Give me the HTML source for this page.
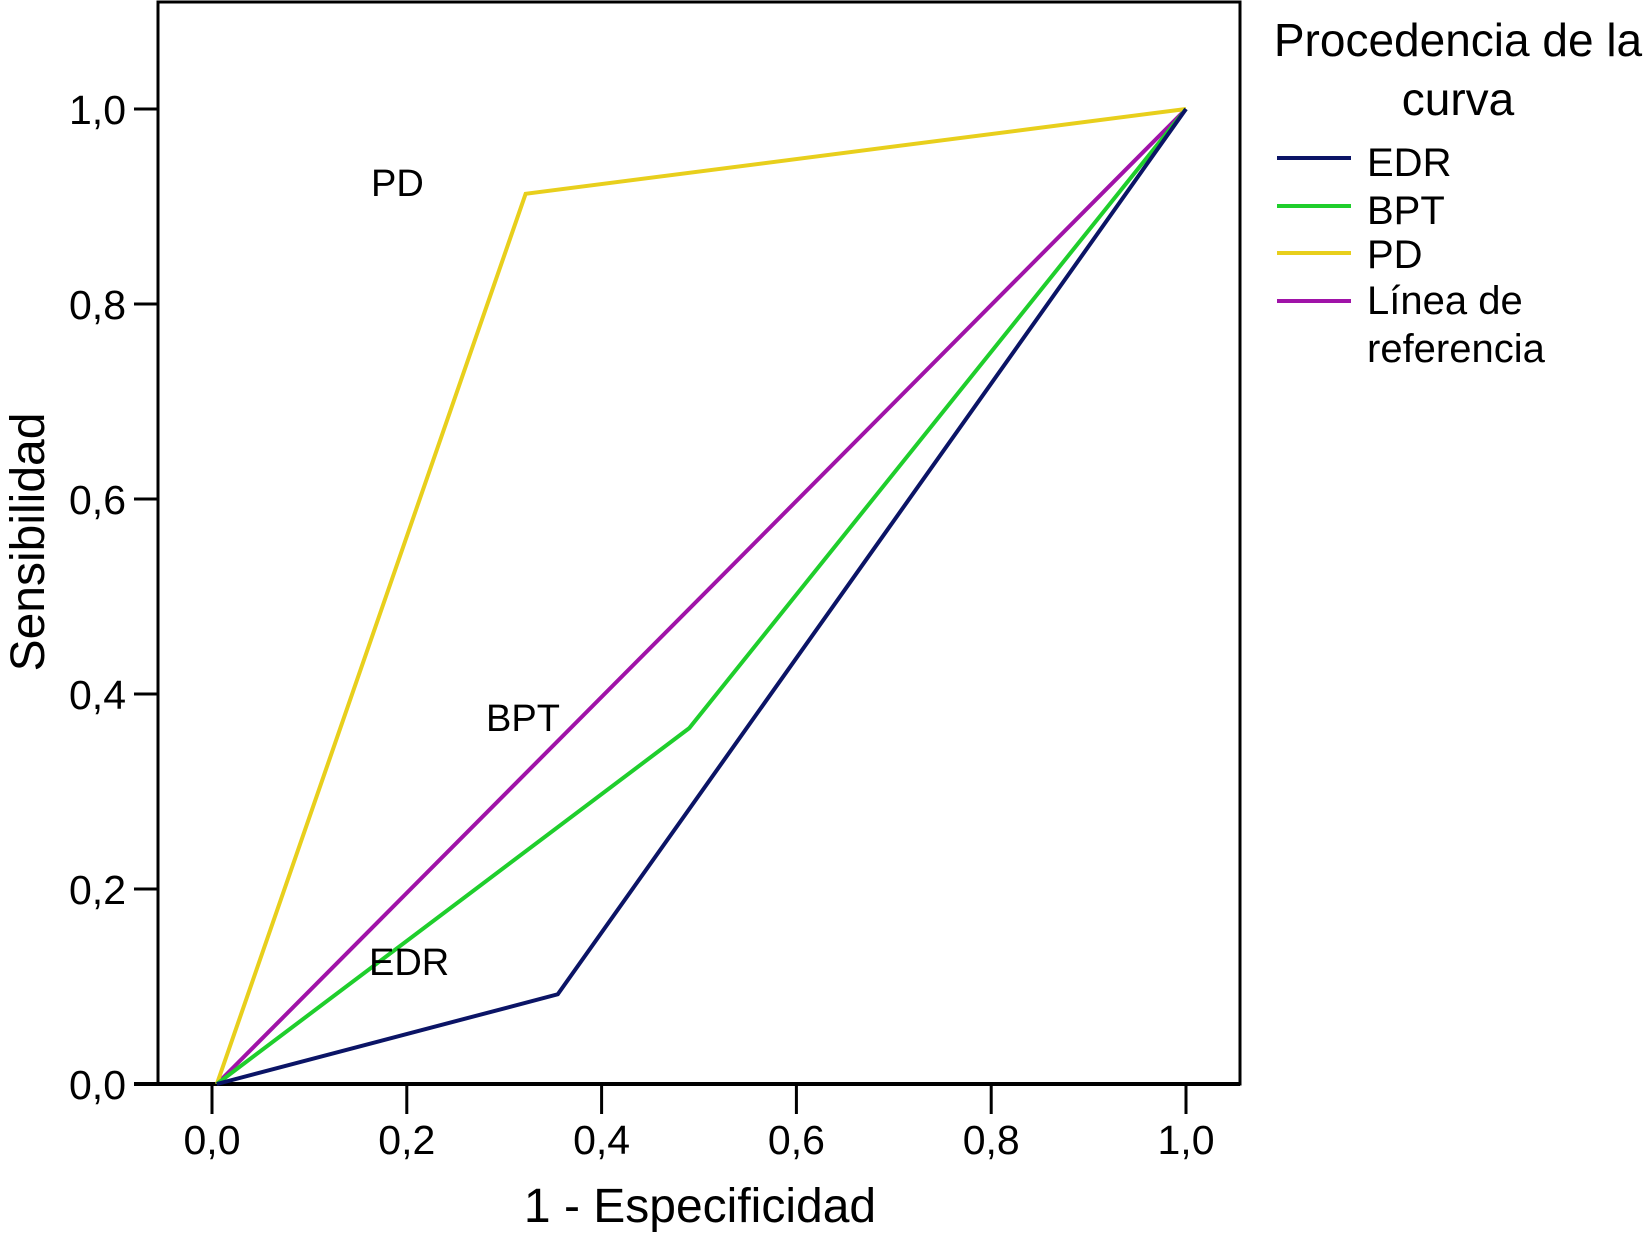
<!DOCTYPE html>
<html><head><meta charset="utf-8"><style>
html,body{margin:0;padding:0;background:#fff;}
svg{display:block;font-family:"Liberation Sans",Arial,sans-serif;}
</style></head><body>
<svg id="chart" width="1651" height="1244" viewBox="0 0 1651 1244">
<rect x="0" y="0" width="1651" height="1244" fill="#fff"/>
<g id="marks"></g>
</svg>
<script>
const xTicks=[0,0.2,0.4,0.6,0.8,1.0];
const xTickLabels=["0,0","0,2","0,4","0,6","0,8","1,0"];
const yTicks=[0,0.2,0.4,0.6,0.8,1.0];
const yTickLabels=["0,0","0,2","0,4","0,6","0,8","1,0"];
const seriesNames=["EDR","BPT","PD","Línea de referencia"];
const edrX=[0.005,0.355,1.0], edrY=[0,0.092,1.0];
const bptX=[0.005,0.49,1.0], bptY=[0,0.365,1.0];
const pdX=[0.005,0.322,1.0], pdY=[0,0.913,1.0];
const refX=[0.005,1.0], refY=[0,1.0];

const NS="http://www.w3.org/2000/svg";
const X0=212,X1=1186,Y0=1084,Y1=109;
function sx(v){return X0+(X1-X0)*v;}
function sy(v){return Y0-(Y0-Y1)*v;}
const g=document.getElementById('marks');
function el(t,a,txt){const e=document.createElementNS(NS,t);for(const k in a)e.setAttribute(k,a[k]);if(txt!==undefined)e.textContent=txt;g.appendChild(e);return e;}

let e;
e=el('rect',{x:158,y:2,width:1082,height:1082,fill:'none',stroke:'#000','stroke-width':3});



xTicks.forEach((v,i)=>{
  e=el('line',{x1:sx(v),x2:sx(v),y1:1084,y2:1114,stroke:'#000','stroke-width':3});
  
  
  e=el('text',{x:sx(v),y:1154,'font-size':41,'text-anchor':'middle'},xTickLabels[i]);
  
  
});
yTicks.forEach((v,i)=>{
  e=el('line',{x1:134,x2:158,y1:sy(v),y2:sy(v),stroke:'#000','stroke-width':3});
  
  
  e=el('text',{x:126,y:sy(v)+15,'font-size':41,'text-anchor':'end'},yTickLabels[i]);
  
  
});
e=el('line',{x1:134,x2:1240,y1:1084,y2:1084,stroke:'#000','stroke-width':4});



e=el('text',{x:700,y:1222,'font-size':48,'text-anchor':'middle'},'1 - Especificidad');


e=el('text',{x:0,y:0,'font-size':48,'text-anchor':'middle',transform:'translate(44,542) rotate(-90)'},'Sensibilidad');



const colors=['#0b1466','#1fce2c','#e8cf1c','#a013a8'];
const sets=[[refX,refY,3,'reference-line'],[pdX,pdY,2,'pd-line'],[bptX,bptY,1,'bpt-line'],[edrX,edrY,0,'edr-line']];
sets.forEach(s=>{
  const pts=s[0].map((v,i)=>sx(v)+','+sy(s[1][i])).join(' ');
  e=el('polyline',{points:pts,fill:'none',stroke:colors[s[2]],'stroke-width':4,'stroke-linejoin':'miter'});
  
  
});

[['PD',371,196,'pd-annotation'],['BPT',486,731,'bpt-annotation'],['EDR',369,975,'edr-annotation']].forEach(a=>{
  e=el('text',{x:a[1],y:a[2],'font-size':38},a[0]);
  
  
});

e=el('text',{x:1458,y:56,'font-size':46,'text-anchor':'middle'},'Procedencia de la');


e=el('text',{x:1458,y:115,'font-size':46,'text-anchor':'middle'},'curva');


const legY=[158,206,253,301];
seriesNames.forEach((n,i)=>{
  e=el('line',{x1:1277,x2:1351,y1:legY[i],y2:legY[i],stroke:colors[i],'stroke-width':4});
  
  
});
[['EDR',176],['BPT',224],['PD',268],['Línea de',314],['referencia',362]].forEach(t=>{
  e=el('text',{x:1367,y:t[1],'font-size':40},t[0]);
  
  
});
</script>
</body></html>
